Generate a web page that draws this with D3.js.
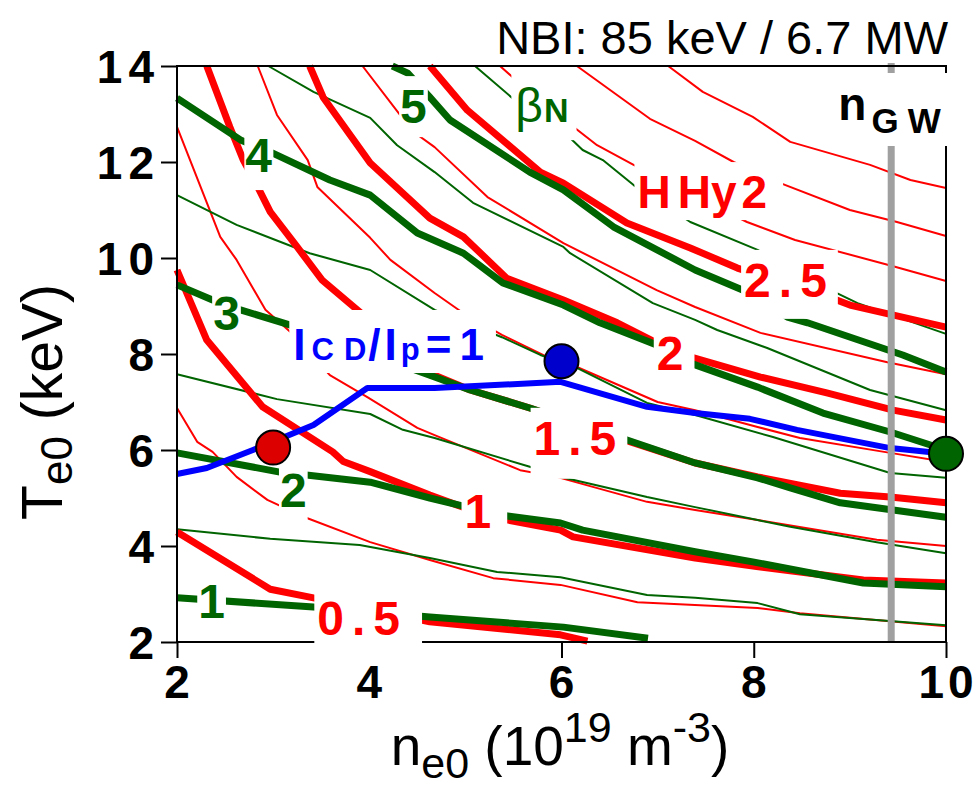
<!DOCTYPE html>
<html><head><meta charset="utf-8">
<script src="https://cdn.jsdelivr.net/npm/d3@7"></script>
<style>
body{margin:0;background:#fff}
svg{display:block}
text{font-family:"Liberation Sans",Arial,Helvetica,sans-serif}
</style>
</head><body>
<svg id="chart" width="979" height="788"></svg>
<script>
// HHy2 contours, [n_e0, T_e0]
const HHY_0_5  = [[2,4.29],[2.97,3.10],[3.42,2.92],[4.63,2.42],[5.99,2.15],[6.27,2.02]];
const HHY_0_75 = [[2,6.875],[2.21,6.17],[2.37,5.96],[2.62,5.44],[2.94,4.96],[3.33,4.60],[4.01,4.08],[4.63,3.71],[5.29,3.33],[5.99,3.19],[6.79,2.83],[8.04,2.71],[8.48,2.6],[10,2.33]];
const HHY_1    = [[2,9.75],[2.31,8.29],[2.89,6.90],[3.62,5.96],[3.73,5.76],[4.01,5.55],[4.63,5.06],[5.0,4.79],[5.34,4.58],[5.99,4.33],[6.12,4.19],[7.39,3.75],[8.03,3.57],[9.14,3.29],[10,3.23]];
const HHY_1_25 = [[2,12.73],[2.45,10.44],[2.62,9.96],[2.92,8.92],[3.18,8.46],[3.59,7.56],[3.98,7.10],[4.50,6.46],[4.68,6.31],[5.57,5.58],[5.95,5.44],[6.89,4.92],[7.39,4.75],[8.04,4.54],[9.28,4.13],[10,4.0]];
const HHY_1_5  = [[2.31,14],[2.55,12.73],[2.69,12.04],[2.83,11.52],[2.97,10.96],[3.25,10.23],[3.51,9.54],[3.94,8.81],[4.63,7.60],[5.05,7.25],[5.67,6.875],[6.59,6.25],[7.39,5.73],[8.04,5.44],[8.90,5.10],[9.42,5.02],[10,4.90]];
const HHY_1_75 = [[2.84,14],[3.04,12.98],[3.36,12.04],[3.46,11.48],[4.01,10.42],[4.22,9.96],[4.68,9.27],[4.98,8.85],[5.38,8.40],[5.85,7.94],[6.16,7.73],[7.0,7.0],[7.39,6.83],[8.04,6.48],[8.48,6.25],[9.42,5.94],[10,5.75]];
const HHY_2    = [[3.38,14],[3.52,13.35],[4.01,11.98],[4.63,10.83],[4.98,10.44],[5.43,9.58],[6.02,9.125],[6.58,8.65],[6.99,8.23],[7.34,7.94],[8.07,7.52],[8.76,7.19],[9.45,6.83],[10,6.625]];
const HHY_2_25 = [[3.93,14],[4.32,12.98],[4.48,12.6],[4.68,12.31],[5.23,11.27],[6.02,10.31],[6.99,9.33],[7.39,8.98],[8.07,8.44],[9.39,7.83],[10,7.58]];
const HHY_2_5  = [[4.63,14],[5.02,13.08],[5.78,11.79],[6.02,11.56],[6.68,10.73],[7.34,10.21],[7.83,9.79],[8.80,9.17],[9.0,9.02],[10,8.56]];
const HHY_2_75 = [[5.36,14],[5.49,13.77],[6.14,12.71],[6.37,12.35],[6.75,11.94],[7.93,10.75],[8.43,10.375],[9.45,9.83],[10,9.52]];
const HHY_3    = [[6.16,14],[6.92,12.9],[7.39,12.44],[7.79,12.0],[8.25,11.58],[9.0,11.0],[9.49,10.75],[10,10.46]];
const HHY_3_25 = [[7.11,14],[7.47,13.46],[7.99,12.94],[8.38,12.42],[9.21,11.94],[9.63,11.625],[10,11.46]];

// beta_N contours
const BN_1   = [[2,2.92],[3.42,2.73],[4.63,2.52],[6.02,2.31],[6.90,2.08]];
const BN_1_5 = [[2,4.35],[2.97,4.15],[3.90,4.02],[4.63,3.75],[5.33,3.46],[5.99,3.35],[6.89,2.98],[7.39,2.92],[8.04,2.81],[8.48,2.58],[10,2.35]];
const BN_2   = [[2,5.94],[3.07,5.54],[4.01,5.33],[4.63,5.0],[5.0,4.82],[5.34,4.65],[5.99,4.48],[6.22,4.33],[7.39,3.88],[7.99,3.67],[9.14,3.23],[10,3.15]];
const BN_2_5 = [[2,7.58],[3.04,7.06],[4.01,6.75],[4.35,6.42],[4.68,6.25],[5.67,5.65],[5.95,5.46],[6.89,5.02],[7.39,4.81],[8.04,4.54],[8.38,4.40],[9.28,4.08],[10,3.85]];
const BN_3   = [[2,9.44],[2.37,9.125],[2.66,8.92],[3.18,8.60],[4.63,7.56],[5.05,7.25],[5.67,6.875],[6.59,6.27],[7.39,5.73],[8.04,5.42],[8.38,5.21],[8.90,4.90],[10,4.60]];
const BN_3_5 = [[2,11.31],[2.62,10.69],[3.38,10.10],[4.01,9.75],[4.68,8.92],[5.38,8.35],[5.78,7.98],[6.16,7.71],[6.89,6.98],[7.39,6.73],[8.20,6.27],[9.42,5.52],[10,5.42]];
const BN_4   = [[2,13.33],[2.66,12.46],[2.99,12.19],[3.59,11.625],[4.01,11.31],[4.50,10.52],[4.98,10.10],[5.39,9.48],[6.02,9.02],[6.40,8.65],[6.99,8.19],[7.34,7.81],[8.04,7.31],[8.72,6.77],[9.42,6.375],[10,6.0]];
const BN_4_5 = [[2.95,14],[3.42,13.46],[4.01,12.92],[4.29,12.35],[4.68,11.79],[5.08,11.15],[6.02,10.23],[6.09,10.10],[6.95,9.06],[7.39,8.71],[7.62,8.5],[8.14,8.125],[9.21,7.25],[10,6.83]];
const BN_5   = [[4.24,14],[4.40,13.85],[4.63,13.35],[4.84,12.875],[5.67,11.79],[6.02,11.42],[6.54,10.65],[7.39,9.75],[7.89,9.33],[8.35,8.77],[8.56,8.65],[9.55,7.98],[10,7.625]];
const BN_5_5 = [[5.10,14],[5.49,13.33],[6.09,12.5],[6.22,12.25],[6.43,12.04],[6.75,11.52],[7.34,10.75],[8.04,10.17],[8.80,9.33],[9.08,9.06],[10,8.42]];

// I_CD / I_p = 1
const ICD_1 = [[2,5.50],[2.31,5.625],[2.79,6.0],[3.42,6.52],[3.98,7.29],[4.68,7.29],[5.99,7.42],[6.89,6.90],[7.39,6.77],[7.96,6.65],[8.45,6.42],[9.42,6.04],[10,5.92]];

// operating points and Greenwald density
const POINTS_N = [3, 6, 10];
const POINTS_T = [6.05, 7.85, 5.92];
const N_GW = 9.43;

const X_TICKS = [2, 4, 6, 8, 10];
const Y_TICKS = [2, 4, 6, 8, 10, 12, 14];

// contour labels: text, n, T (centre, baseline)
const HHY_LABELS = [["0.5",3.89,2.15],["1",5.13,4.375],["1.5",6.14,5.90],["2",7.13,7.67],["2.5",8.33,9.19]];
const BN_LABELS  = [["1",2.36,2.5],["2",3.21,4.81],["3",2.515,8.5],["4",2.85,11.79],["5",4.46,12.81]];

const RED = "#ff0000", GREEN = "#006400", BLUE = "#0000ff", GREY = "#a0a0a0";

const svg = d3.select("#chart");
const x = d3.scaleLinear().domain([2, 10]).range([177, 946]);
const y = d3.scaleLinear().domain([2, 14]).range([642, 66]);
const line = d3.line().x(d => x(d[0])).y(d => y(d[1]));

const redThin = [HHY_0_75, HHY_1_25, HHY_1_75, HHY_2_25, HHY_2_75, HHY_3, HHY_3_25];
const redThick = [HHY_0_5, HHY_1, HHY_1_5, HHY_2, HHY_2_5];
const greenThin = [BN_1_5, BN_2_5, BN_3_5, BN_4_5, BN_5_5];
const greenThick = [BN_1, BN_2, BN_3, BN_4, BN_5];

function drawLines(list, color, w) {
  svg.append("g").selectAll("path").data(list).join("path")
    .attr("d", line).attr("fill", "none").attr("stroke", color)
    .attr("stroke-width", w).attr("stroke-linejoin", "round");
}
drawLines(redThin, RED, 2);
drawLines(greenThin, GREEN, 2);
drawLines(redThick, RED, 7);
drawLines(greenThick, GREEN, 7);
drawLines([ICD_1], BLUE, 6);

// Greenwald line
svg.append("line").attr("x1", x(N_GW)).attr("x2", x(N_GW))
  .attr("y1", y(14) - 3).attr("y2", y(2))
  .attr("stroke", GREY).attr("stroke-width", 7);

// frame + axes
svg.append("rect").attr("x", x(2)).attr("y", y(14))
  .attr("width", x(10) - x(2)).attr("height", y(2) - y(14))
  .attr("fill", "none").attr("stroke", "#000").attr("stroke-width", 2);

const gy = svg.append("g").attr("transform", `translate(${x(2)},0)`)
  .call(d3.axisLeft(y).tickValues(Y_TICKS).tickSize(16).tickFormat(""));
const gx = svg.append("g").attr("transform", `translate(0,${y(2)})`)
  .call(d3.axisBottom(x).tickValues(X_TICKS).tickSize(16).tickFormat(""));
[gx, gy].forEach(g => {
  g.select(".domain").remove();
  g.selectAll("line").attr("stroke", "#000").attr("stroke-width", 2);
});

// boxed labels
function boxed(build, pad) {
  const g = svg.append("g");
  const t = g.append("text");
  build(t);
  const bb = t.node().getBBox();
  const p = Object.assign({l: 3, r: 3, t: 4, b: 8}, pad || {});
  g.insert("rect", "text").attr("x", bb.x - p.l).attr("y", bb.y - p.t)
    .attr("width", bb.width + p.l + p.r).attr("height", bb.height + p.t + p.b)
    .attr("fill", "#fff");
  return g;
}

const hhyPad = {"0.5": {b: 18, r: 14}, "1": {r: 8}, "1.5": {b: 14}, "2": {b: 10}, "2.5": {b: 12}};
HHY_LABELS.forEach(([s, n, T]) => boxed(t => t.attr("x", x(n) + 4).attr("y", y(T))
  .attr("text-anchor", "middle").attr("font-size", 48).attr("font-weight", "bold")
  .attr("letter-spacing", 8).attr("fill", RED).text(s), hhyPad[s]));

const bnPad = {"3": {b: 1}, "5": {b: 4}};
BN_LABELS.forEach(([s, n, T]) => boxed(t => t.attr("x", x(n)).attr("y", y(T))
  .attr("text-anchor", "middle").attr("font-size", 48).attr("font-weight", "bold")
  .attr("fill", GREEN).text(s), Object.assign({l: 1, r: 1}, bnPad[s] || {})));

// HHy2
boxed(t => {
  t.attr("x", x(6.79)).attr("y", y(11.04)).attr("font-size", 46).attr("font-weight", "bold").attr("fill", RED);
  t.append("tspan").text("H");
  t.append("tspan").attr("dx", 7).text("Hy");
  t.append("tspan").attr("dx", 5).text("2");
}, {b: 2, r: 16});

// beta_N
boxed(t => {
  t.attr("x", x(5.52)).attr("y", y(12.83)).attr("fill", GREEN);
  t.append("tspan").attr("font-size", 48).text("β");
  t.append("tspan").attr("font-size", 34).attr("font-weight", "bold").attr("dx", 1).text("N");
}, {l: 4, r: 8, t: 6, b: 8});

// I_CD/I_p = 1
boxed(t => {
  t.attr("x", x(3.21)).attr("y", y(7.875)).attr("fill", BLUE).attr("font-weight", "bold")
    .attr("font-size", 44);
  t.append("tspan").text("I");
  t.append("tspan").attr("font-size", 31).attr("dx", 6).text("C");
  t.append("tspan").attr("font-size", 31).attr("dx", 10).text("D");
  t.append("tspan").attr("dx", 2).text("/");
  t.append("tspan").attr("dx", 4).text("I");
  t.append("tspan").attr("font-size", 31).attr("dx", 4).text("p");
  t.append("tspan").attr("dx", 6).text("=");
  t.append("tspan").attr("dx", 8).text("1");
}, {l: 4, r: 12, t: 10, b: 4});

// n_GW
boxed(t => {
  t.attr("x", x(8.88)).attr("y", y(12.875)).attr("fill", "#000").attr("font-weight", "bold");
  t.append("tspan").attr("font-size", 46).text("n");
  t.append("tspan").attr("font-size", 35).attr("dx", 5).attr("dy", 13).text("G");
  t.append("tspan").attr("font-size", 35).attr("dx", 9).text("W");
}, {l: 3, r: 8, t: 5, b: 6});

// operating points
svg.append("g").selectAll("circle").data(POINTS_N).join("circle")
  .attr("cx", d => x(d)).attr("cy", (d, i) => y(POINTS_T[i])).attr("r", 17)
  .attr("fill", (d, i) => ["#dd0000", "#0000cc", "#006400"][i])
  .attr("stroke", "#000").attr("stroke-width", 2);

// tick labels
svg.append("g").selectAll("text").data(Y_TICKS).join("text")
  .attr("x", 160).attr("y", d => y(d)).attr("dy", "0.36em")
  .attr("text-anchor", "end").attr("font-size", 46).attr("font-weight", "bold")
  .attr("letter-spacing", 6).text(d => d);
svg.append("g").selectAll("text").data(X_TICKS).join("text")
  .attr("x", d => x(d) + 2).attr("y", 698)
  .attr("text-anchor", "middle").attr("font-size", 46).attr("font-weight", "bold")
  .attr("letter-spacing", 4).text(d => d);

// axis titles
const xt = svg.append("text").attr("x", 560).attr("y", 765).attr("text-anchor", "middle").attr("font-size", 55);
xt.append("tspan").text("n");
xt.append("tspan").attr("font-size", 43).attr("dy", 13).text("e0");
xt.append("tspan").attr("dy", -13).text(" (10");
xt.append("tspan").attr("font-size", 43).attr("dy", -23).text("19");
xt.append("tspan").attr("dy", 23).text(" m");
xt.append("tspan").attr("font-size", 43).attr("dy", -23).text("-3");
xt.append("tspan").attr("dy", 23).text(")");

const yt = svg.append("text").attr("transform", "translate(62,402) rotate(-90)")
  .attr("text-anchor", "middle").attr("font-size", 57);
yt.append("tspan").text("T");
yt.append("tspan").attr("font-size", 44).attr("dy", 10).text("e0");
yt.append("tspan").attr("dy", -10).text(" (keV)");

// title
svg.append("text").attr("x", 948).attr("y", 54).attr("text-anchor", "end")
  .attr("font-size", 47).text("NBI: 85 keV / 6.7 MW");
</script>
</body></html>
